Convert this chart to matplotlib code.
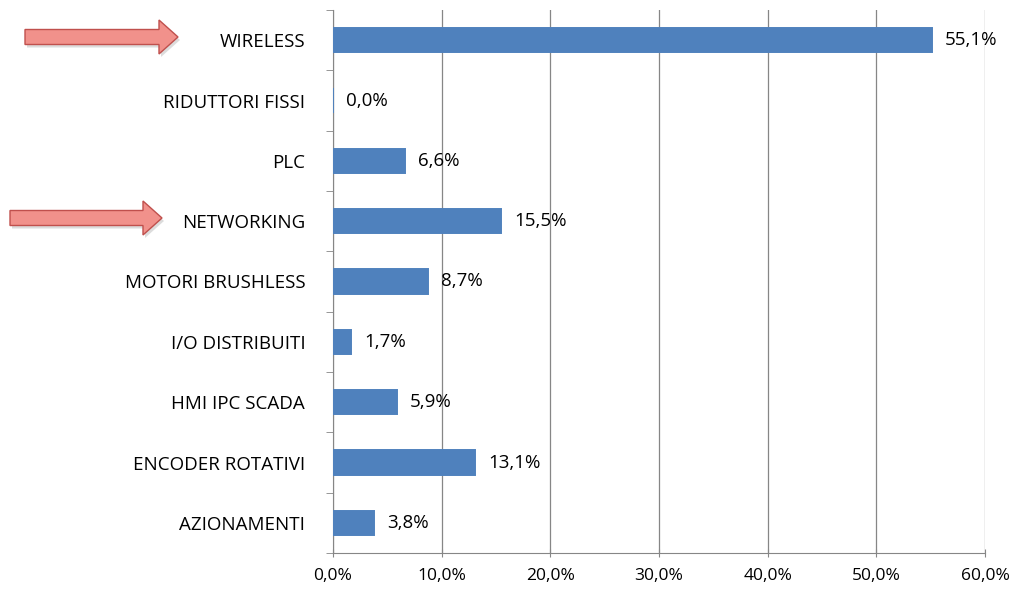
import numpy as np
import matplotlib.pyplot as plt
from matplotlib.patches import FancyArrow

categories = ['AZIONAMENTI', 'ENCODER ROTATIVI', 'HMI IPC SCADA', 'I/O DISTRIBUITI',
              'MOTORI BRUSHLESS', 'NETWORKING', 'PLC', 'RIDUTTORI FISSI', 'WIRELESS']
values = [3.8, 13.1, 5.9, 1.7, 8.7, 15.5, 6.6, 0.0, 55.1]
xticks = [0, 10, 20, 30, 40, 50, 60]

plt.rcParams['font.family'] = ['Open Sans', 'DejaVu Sans']
fig = plt.figure(figsize=(10.1, 5.89), dpi=100)
ax = fig.add_axes([333/1010, 36/589, 652/1010, 543/589])

y = np.arange(len(categories))
bars = ax.barh(y, values, height=0.4, color='#4F81BD', edgecolor='#4F81BD', linewidth=1.4, zorder=3)
for yi, v in zip(y, values):
    ax.text(v + 1.2, yi, f'{v:.1f}%'.replace('.', ','), va='center', ha='left', fontsize=13.5)

ax.set_xlim(0, 60)
ax.set_ylim(-0.5, len(categories) - 0.5)
ax.set_xticks(xticks)
ax.set_xticklabels([f'{t:.1f}%'.replace('.', ',') for t in xticks], fontsize=12.5)
ax.set_yticks(y)
ax.set_yticklabels(categories, fontsize=13.5)
ax.set_yticks(np.arange(-0.5, len(categories), 1), minor=True)
ax.tick_params(axis='y', which='major', length=0, pad=20)
ax.tick_params(axis='y', which='minor', length=5, color='#868686', direction='out')
ax.tick_params(axis='x', length=6, color='#868686', direction='inout', pad=8)
ax.grid(axis='x', color='#868686', linewidth=0.9, zorder=0)
for s in ['top', 'right']:
    ax.spines[s].set_visible(False)
for s in ['left', 'bottom']:
    ax.spines[s].set_color('#868686')
    ax.spines[s].set_zorder(2)

# red arrows pointing to highlighted categories
for x0, x1, yc in [(25, 178, 37), (10, 162, 218)]:
    fx0, fx1 = x0 / 1010, x1 / 1010
    fy = 1 - yc / 589
    kw = dict(width=15/589, head_width=34/589, head_length=19/1010,
              length_includes_head=True, transform=fig.transFigure)
    shadow = FancyArrow(fx0 + 2/1010, fy - 3/589, fx1 - fx0, 0, facecolor='#BBBBBB',
                        edgecolor='none', alpha=0.5, **kw)
    arr = FancyArrow(fx0, fy, fx1 - fx0, 0, facecolor='#F1918B', edgecolor='#C0504D',
                     linewidth=1.0, **kw)
    fig.patches.append(shadow)
    fig.patches.append(arr)

fig.savefig('out.png', dpi=100)
